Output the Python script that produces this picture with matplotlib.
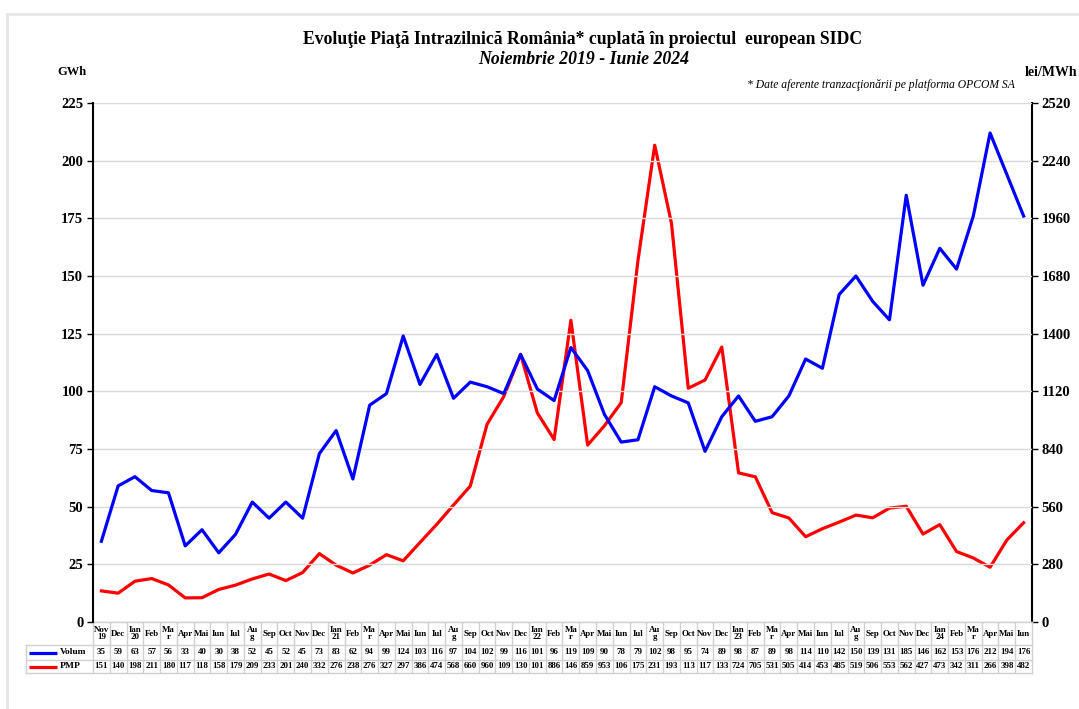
import matplotlib.pyplot as plt
from matplotlib.lines import Line2D

plt.rcParams['font.family'] = ['Liberation Serif', 'DejaVu Serif']

# month labels, Nov 2019 - Iun 2024
months = ["Nov\n19", "Dec",
          "Ian\n20", "Feb", "Ma\nr", "Apr", "Mai", "Iun", "Iul", "Au\ng", "Sep", "Oct", "Nov", "Dec",
          "Ian\n21", "Feb", "Ma\nr", "Apr", "Mai", "Iun", "Iul", "Au\ng", "Sep", "Oct", "Nov", "Dec",
          "Ian\n22", "Feb", "Ma\nr", "Apr", "Mai", "Iun", "Iul", "Au\ng", "Sep", "Oct", "Nov", "Dec",
          "Ian\n23", "Feb", "Ma\nr", "Apr", "Mai", "Iun", "Iul", "Au\ng", "Sep", "Oct", "Nov", "Dec",
          "Ian\n24", "Feb", "Ma\nr", "Apr", "Mai", "Iun"]

# volume traded, GWh
volum = [35, 59, 63, 57, 56, 33, 40, 30, 38, 52, 45, 52, 45, 73, 83, 62, 94, 99, 124, 103,
         116, 97, 104, 102, 99, 116, 101, 96, 119, 109, 90, 78, 79, 102, 98, 95, 74, 89, 98, 87,
         89, 98, 114, 110, 142, 150, 139, 131, 185, 146, 162, 153, 176, 212, 194, 176]

# weighted average price, lei/MWh
pmp = [151, 140, 198, 211, 180, 117, 118, 158, 179, 209, 233, 201, 240, 332, 276, 238, 276, 327, 297, 386,
       474, 568, 660, 960, 1095, 1300, 1015, 886, 1465, 859, 953, 1065, 1755, 2315, 1935, 1135, 1175, 1335, 724, 705,
       531, 505, 414, 453, 485, 519, 506, 553, 562, 427, 473, 342, 311, 266, 398, 482]

W, H = 1079, 709
fig = plt.figure(figsize=(W / 100, H / 100), dpi=100)

# light frame (top + left)
fig.add_artist(Line2D([7 / W, 1], [1 - 14 / H] * 2, color='#e6e6e6', lw=2))
fig.add_artist(Line2D([7 / W] * 2, [0, 1 - 14 / H], color='#e6e6e6', lw=2))

x0, x1, y0, y1 = 93, 1032, 622, 103
ax = fig.add_axes([x0 / W, 1 - y0 / H, (x1 - x0) / W, (y0 - y1) / H])
n = len(volum)
xs = list(range(n))

ax.set_xlim(-0.5, n - 0.5)
ax.set_ylim(0, 225)
ax.set_yticks(range(0, 226, 25))
ax.grid(axis='y', color='#d9d9d9', lw=1)
ax.set_axisbelow(True)
ax.set_xticks([])
for s in ['top', 'bottom']:
    ax.spines[s].set_visible(False)
ax.spines['left'].set_linewidth(1.5)
ax.spines['right'].set_visible(False)
ax.tick_params(axis='y', length=4, width=1, pad=3, labelsize=10.5)
for t in ax.get_yticklabels():
    t.set_fontweight('bold')

ax2 = ax.twinx()
ax2.set_ylim(0, 2520)
ax2.set_yticks(range(0, 2521, 280))
for s in ['top', 'bottom', 'left']:
    ax2.spines[s].set_visible(False)
ax2.spines['right'].set_linewidth(1.5)
ax2.tick_params(axis='y', length=4, width=1, pad=3, labelsize=10.5)
for t in ax2.get_yticklabels():
    t.set_fontweight('bold')

ax2.plot(xs, pmp, color='#ff0000', lw=2.3, zorder=3)
ax.plot(xs, volum, color='#0000ff', lw=2.3, zorder=4)
ax.set_zorder(ax2.get_zorder() + 1)
ax.patch.set_visible(False)

# titles and units
fig.text(583 / W, 1 - 40 / H, "Evoluţie Piaţă Intrazilnică România* cuplată în proiectul  european SIDC",
         ha='center', va='center', fontsize=12.7, fontweight='bold')
fig.text(584 / W, 1 - 59 / H, "Noiembrie 2019 - Iunie 2024", ha='center', va='center',
         fontsize=12.8, fontweight='bold', style='italic')
fig.text(57 / W, 1 - 72 / H, "GWh", ha='left', va='center', fontsize=9, fontweight='bold')
fig.text(1077 / W, 1 - 73 / H, "lei/MWh", ha='right', va='center', fontsize=10, fontweight='bold')
fig.text(1015 / W, 1 - 85 / H, "* Date aferente tranzacţionării pe platforma OPCOM SA", ha='right',
         va='center', fontsize=8.4, style='italic')

# data table under the chart
tl = 26
pitch = (x1 - x0) / n
lab_units = (x0 - tl) / pitch
tax = fig.add_axes([tl / W, 1 - 673 / H, (x1 - tl) / W, 51 / H])
tax.set_xlim(-0.5 - lab_units, n - 0.5)
tax.set_ylim(673, 622)
tax.axis('off')
gc = '#d0d0d0'
rows = [622, 645, 660, 673]
for r in rows:
    xa = -0.5 if r == 622 else -0.5 - lab_units
    tax.plot([xa, n - 0.5], [r, r], color=gc, lw=1, clip_on=False)
for i in range(n + 1):
    tax.plot([i - 0.5, i - 0.5], [622, 673], color=gc, lw=1, clip_on=False)
tax.plot([-0.5 - lab_units] * 2, [645, 673], color=gc, lw=1, clip_on=False)

fs = 6.4
for i in range(n):
    tax.text(i, 633.5, months[i], ha='center', va='center', fontsize=fs, fontweight='bold',
             linespacing=0.95)
    tax.text(i, 652.5, str(volum[i]), ha='center', va='center', fontsize=fs, fontweight='bold')
    # the cells only fit three digits, so the 4-digit prices are cut off as in the original
    tax.text(i, 666.5, str(pmp[i])[:3], ha='center', va='center', fontsize=fs, fontweight='bold')

lx = -0.5 - lab_units
tax.plot([lx + 0.2, lx + 1.85], [652.5, 652.5], color='#0000ff', lw=2.3, clip_on=False,
         solid_capstyle='butt')
tax.plot([lx + 0.2, lx + 1.85], [666.5, 666.5], color='#ff0000', lw=2.3, clip_on=False,
         solid_capstyle='butt')
tax.text(lx + 2.0, 652.5, "Volum", ha='left', va='center', fontsize=fs + 0.4, fontweight='bold')
tax.text(lx + 2.0, 666.5, "PMP", ha='left', va='center', fontsize=fs + 0.4, fontweight='bold')

fig.savefig('out.png', dpi=100)
